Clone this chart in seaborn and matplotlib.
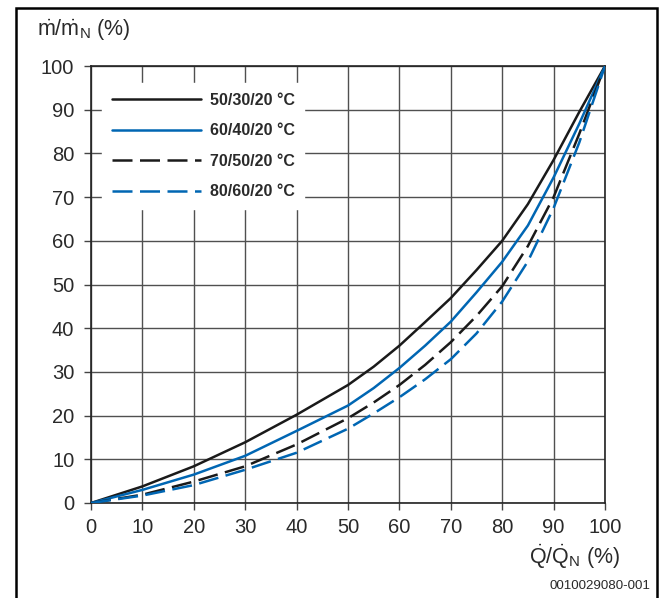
import pandas as pd
import seaborn as sns
import matplotlib.pyplot as plt
from matplotlib.patches import Rectangle

# Data (x = heat output %, y = mass flow %)
q = [0, 10, 20, 30, 40, 50, 55, 60, 65, 70, 75, 80, 85, 90, 95, 100]
m_50_30 = [0, 3.8, 8.4, 13.9, 20.2, 27.0, 31.2, 36.0, 41.4, 46.9, 53.3, 60.0, 68.4, 78.5, 89.5, 100]
m_60_40 = [0, 3.0, 6.5, 10.8, 16.5, 22.3, 26.3, 30.9, 36.0, 41.5, 48.2, 55.2, 63.5, 74.5, 86.8, 100]
m_70_50 = [0, 1.9, 4.9, 8.4, 13.4, 19.4, 23.0, 27.0, 31.6, 36.8, 42.8, 49.6, 58.8, 70.0, 84.5, 100]
m_80_60 = [0, 1.7, 4.1, 7.6, 11.5, 17.0, 20.5, 24.2, 28.3, 32.9, 38.8, 46.1, 55.3, 67.5, 82.5, 100]
labels = ['50/30/20 °C', '60/40/20 °C', '70/50/20 °C', '80/60/20 °C']

df = pd.concat([
    pd.DataFrame({'q': q, 'm': m, 'curve': lab})
    for m, lab in zip([m_50_30, m_60_40, m_70_50, m_80_60], labels)
])

sns.set_style('white')
plt.rcParams['font.family'] = ['Liberation Sans', 'DejaVu Sans']
plt.rcParams['mathtext.fontset'] = 'custom'
plt.rcParams['mathtext.rm'] = 'Liberation Sans'
plt.rcParams['mathtext.it'] = 'Liberation Sans:italic'

black = '#1a1a1a'
blue = '#0066b3'
txt = '#2a2a2a'
palette = {labels[0]: black, labels[1]: blue, labels[2]: black, labels[3]: blue}
dashes = {labels[0]: '', labels[1]: '', labels[2]: (8, 3), labels[3]: (8, 3)}

fig = plt.figure(figsize=(6.61, 5.98), dpi=100)
ax = fig.add_axes([91 / 661, 1 - 503 / 598, 514 / 661, 437 / 598])

sns.lineplot(data=df, x='q', y='m', hue='curve', style='curve', palette=palette,
             dashes=dashes, linewidth=1.8, ax=ax, zorder=3)

ax.set_xlim(0, 100)
ax.set_ylim(0, 100)
ax.set_xticks(range(0, 101, 10))
ax.set_yticks(range(0, 101, 10))
ax.grid(True, color='#505050', linewidth=1.0)
ax.set_axisbelow(True)
for s in ax.spines.values():
    s.set_color('#222222')
    s.set_linewidth(1.2)
ax.tick_params(axis='both', direction='out', length=5, width=1, color='#444444',
               labelsize=14.5, labelcolor=txt, bottom=True, left=True)
ax.tick_params(axis='y', pad=7)
ax.tick_params(axis='x', pad=6)
ax.set_xlabel('')
ax.set_ylabel('')

# axis titles placed like the reference
fig.text(37 / 661, 1 - 30 / 598, r'$\mathrm{\dot{m}/\dot{m}_N}$ (%)', fontsize=15.5,
         color=txt, ha='left', va='center')
fig.text(620 / 661, 1 - 557 / 598, r'$\mathrm{\dot{Q}/\dot{Q}_N}$ (%)', fontsize=15.5,
         color=txt, ha='right', va='center')
fig.text(650 / 661, 1 - 586 / 598, '0010029080-001', fontsize=9.6,
         color=txt, ha='right', va='center')

leg = ax.legend(loc='upper left', bbox_to_anchor=(0.0214, 0.961), borderaxespad=0,
                frameon=True, fancybox=False, handlelength=5.6, handletextpad=0.55,
                labelspacing=0.97, borderpad=0.6,
                prop={'weight': 'bold', 'size': 11.5})
leg.get_frame().set_facecolor('white')
leg.get_frame().set_edgecolor('white')
leg.get_frame().set_alpha(1)
for t in leg.get_texts():
    t.set_color(txt)

# outer frame around the figure
fig.patches.append(Rectangle((16 / 661, -0.02), 641 / 661, 1 - 8 / 598 + 0.02,
                             transform=fig.transFigure, fill=False,
                             edgecolor='black', linewidth=1.8))

fig.savefig('out.png', dpi=100)
